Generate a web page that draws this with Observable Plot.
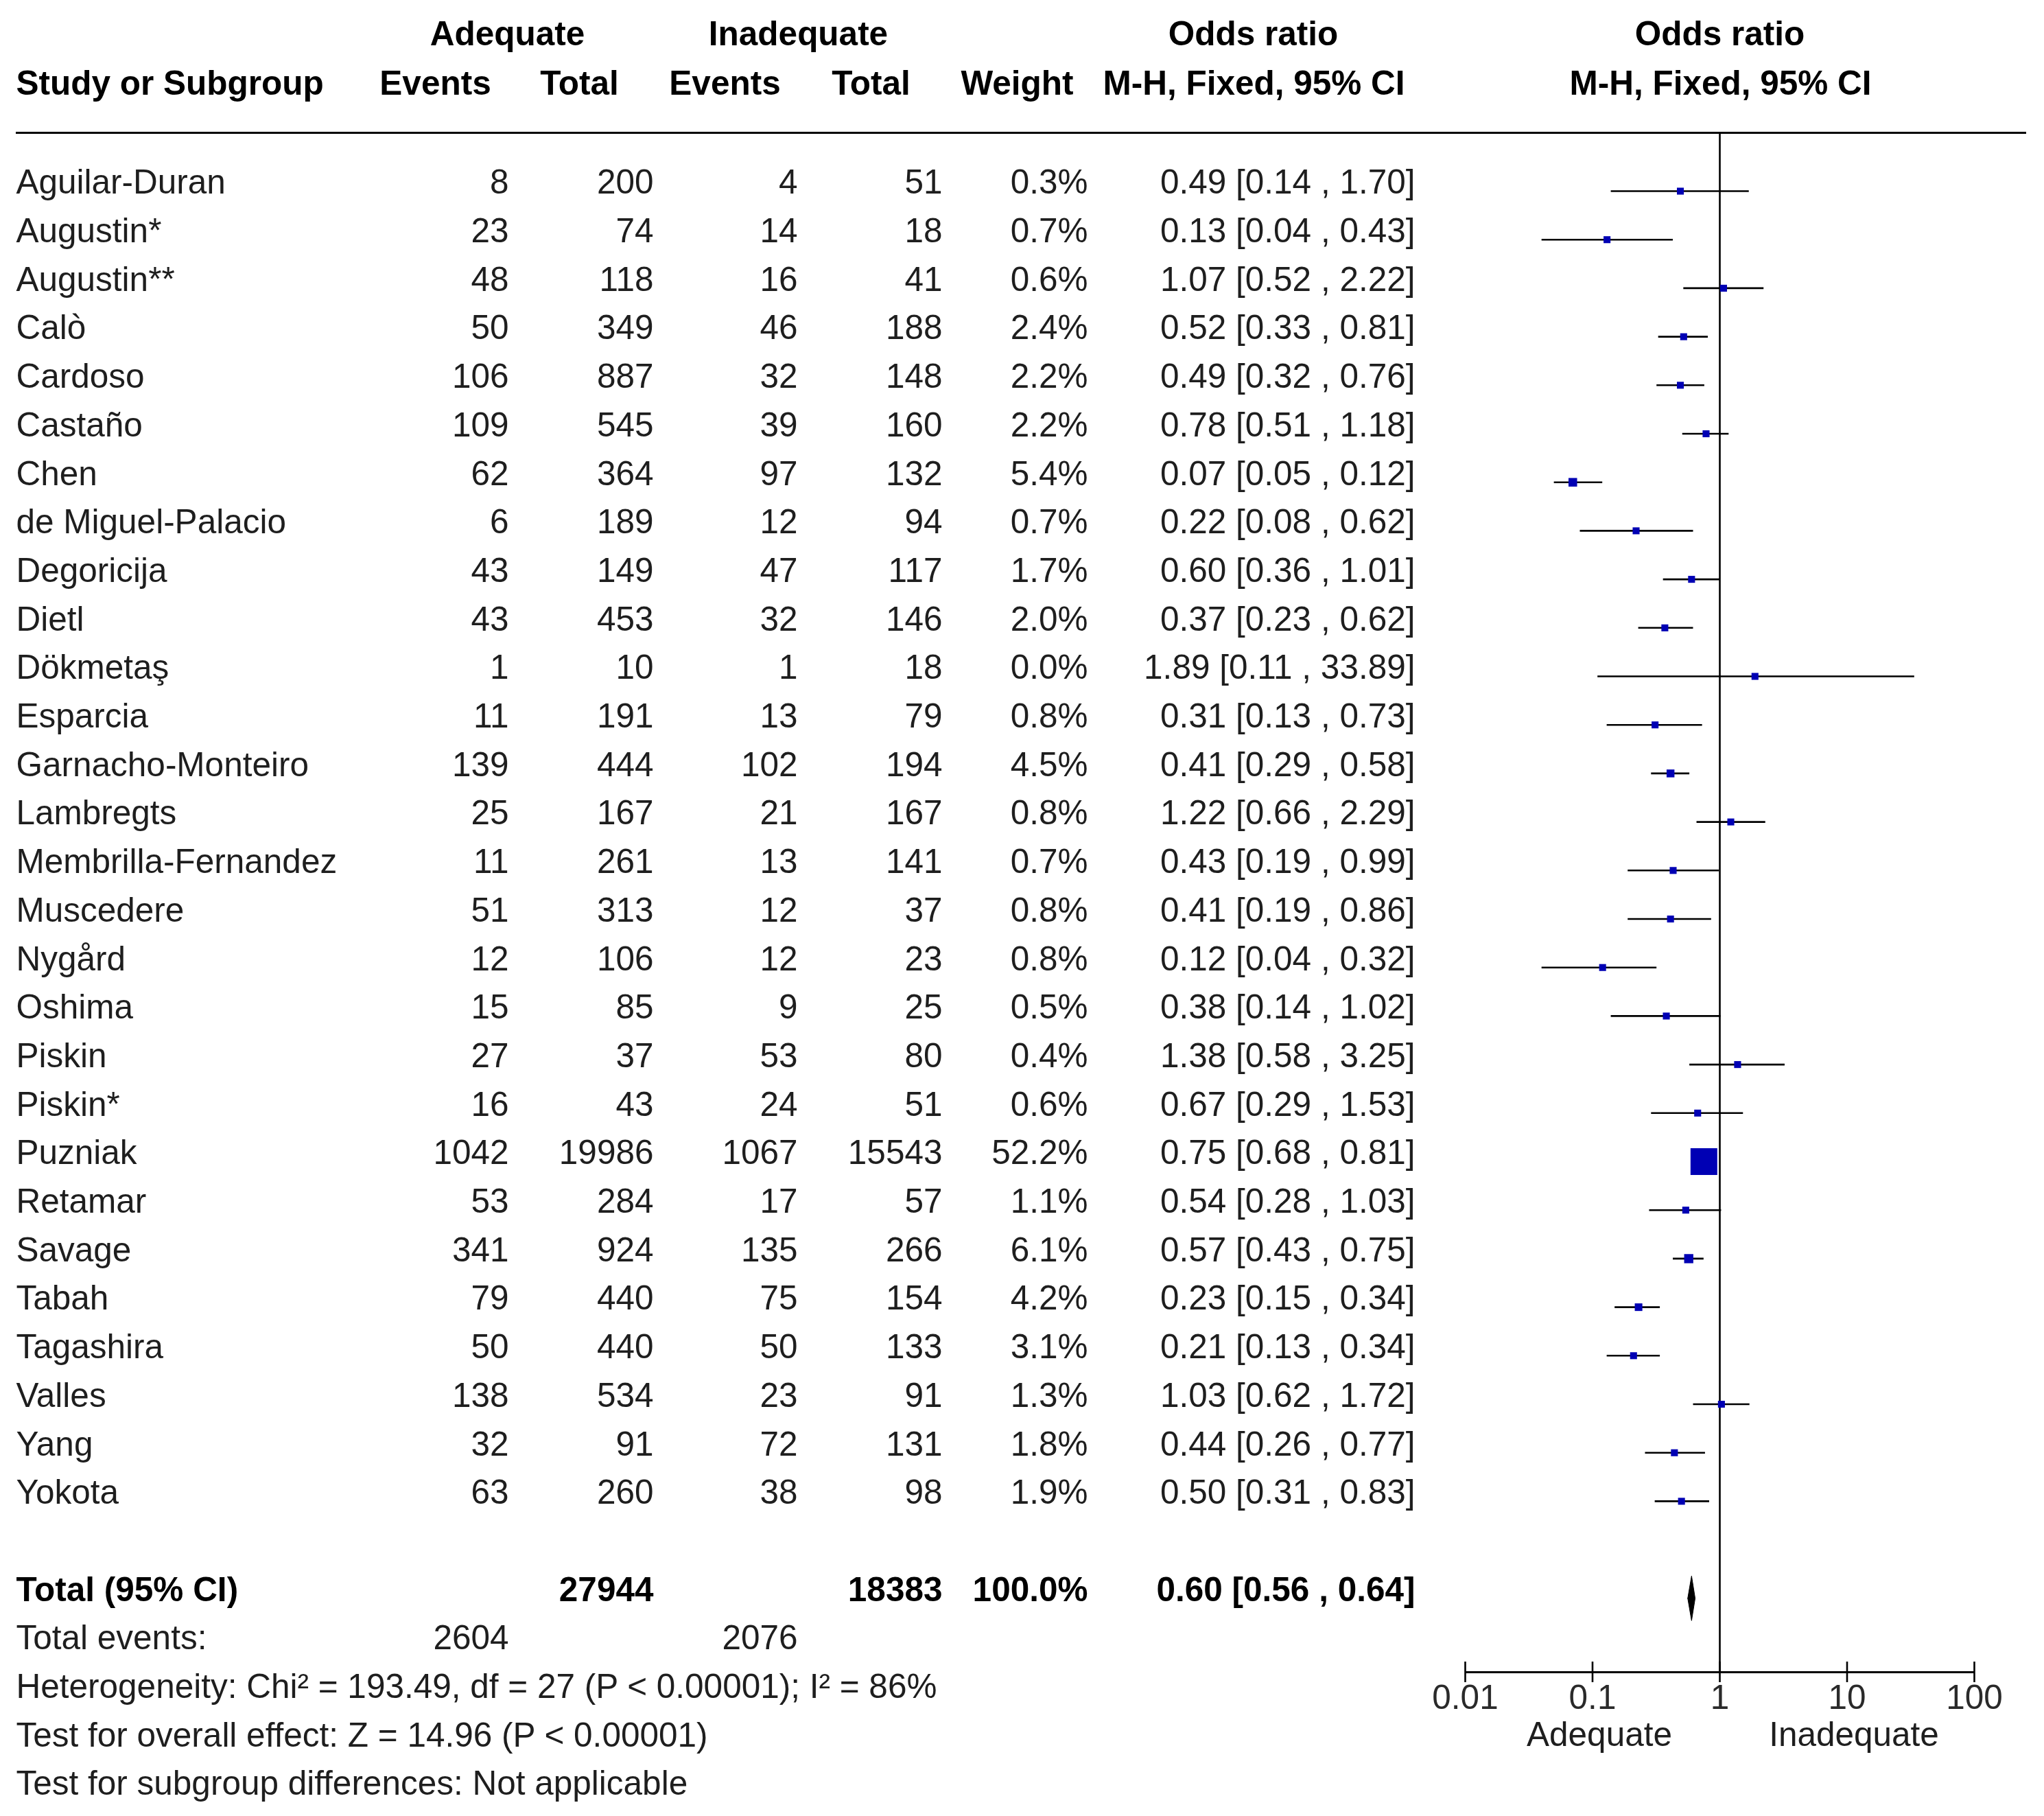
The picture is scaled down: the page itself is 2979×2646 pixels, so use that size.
<!DOCTYPE html>
<html><head><meta charset="utf-8">
<script src="https://cdn.jsdelivr.net/npm/d3@7"></script>
<script src="https://cdn.jsdelivr.net/npm/@observablehq/plot@0.6"></script>
<style>body{margin:0;background:#fff}</style>
</head><body><div id="chart"></div>
<script>
// ---------------- data ----------------
const studies = ["Aguilar-Duran","Augustin*","Augustin**","Calò","Cardoso","Castaño","Chen","de Miguel-Palacio","Degoricija","Dietl","Dökmetaş","Esparcia","Garnacho-Monteiro","Lambregts","Membrilla-Fernandez","Muscedere","Nygård","Oshima","Piskin","Piskin*","Puzniak","Retamar","Savage","Tabah","Tagashira","Valles","Yang","Yokota"];
const adeqEvents = [8,23,48,50,106,109,62,6,43,43,1,11,139,25,11,51,12,15,27,16,1042,53,341,79,50,138,32,63];
const adeqTotal  = [200,74,118,349,887,545,364,189,149,453,10,191,444,167,261,313,106,85,37,43,19986,284,924,440,440,534,91,260];
const inadEvents = [4,14,16,46,32,39,97,12,47,32,1,13,102,21,13,12,12,9,53,24,1067,17,135,75,50,23,72,38];
const inadTotal  = [51,18,41,188,148,160,132,94,117,146,18,79,194,167,141,37,23,25,80,51,15543,57,266,154,133,91,131,98];
const weights    = [0.3,0.7,0.6,2.4,2.2,2.2,5.4,0.7,1.7,2.0,0.0,0.8,4.5,0.8,0.7,0.8,0.8,0.5,0.4,0.6,52.2,1.1,6.1,4.2,3.1,1.3,1.8,1.9];
const oddsRatio  = [0.49,0.13,1.07,0.52,0.49,0.78,0.07,0.22,0.60,0.37,1.89,0.31,0.41,1.22,0.43,0.41,0.12,0.38,1.38,0.67,0.75,0.54,0.57,0.23,0.21,1.03,0.44,0.50];
const ciLow      = [0.14,0.04,0.52,0.33,0.32,0.51,0.05,0.08,0.36,0.23,0.11,0.13,0.29,0.66,0.19,0.19,0.04,0.14,0.58,0.29,0.68,0.28,0.43,0.15,0.13,0.62,0.26,0.31];
const ciHigh     = [1.70,0.43,2.22,0.81,0.76,1.18,0.12,0.62,1.01,0.62,33.89,0.73,0.58,2.29,0.99,0.86,0.32,1.02,3.25,1.53,0.81,1.03,0.75,0.34,0.34,1.72,0.77,0.83];

const totalN = [27944, 18383];
const totalEvents = [2604, 2076];
const totalWeight = 100.0;
const totalOR = [0.60, 0.56, 0.64]; // estimate, low, high

const headerTop = ["Adequate","Inadequate","Odds ratio","Odds ratio"];
const headerCols = ["Study or Subgroup","Events","Total","Events","Total","Weight","M-H, Fixed, 95% CI","M-H, Fixed, 95% CI"];
const totalLabel = "Total (95% CI)";
const eventsLabel = "Total events:";
const footnotes = [
  "Heterogeneity: Chi² = 193.49, df = 27 (P < 0.00001); I² = 86%",
  "Test for overall effect: Z = 14.96 (P < 0.00001)",
  "Test for subgroup differences: Not applicable"
];
const xTicks = [0.01, 0.1, 1, 10, 100];
const xTickLabels = ["0.01","0.1","1","10","100"];
const favourLabels = ["Adequate","Inadequate"];

// ---------------- layout ----------------
const W = 2979, H = 2646;
const FS = 49.5;
const FONT = "'Liberation Sans', Arial, Helvetica, sans-serif";
const ROW0 = 266, ROWH = 70.7;
const yOf = px => (px - ROW0) / ROWH;
const GOFF = 0.17;           // graphic rows sit slightly below text centre
const col = {name: 23, e1: 741, t1: 952, e2: 1162, t2: 1373, w: 1585, or: 2062};
const headerTopX = [739, 1163, 1826, 2506];
const headerColX = [23, 634, 844, 1056, 1269, 1482, 1827, 2507];
const fmt2 = v => v.toFixed(2);
const orText = (o, l, h) => `${fmt2(o)} [${fmt2(l)} , ${fmt2(h)}]`;

const rows = studies.map((s, i) => ({
  i, s, e1: adeqEvents[i], t1: adeqTotal[i], e2: inadEvents[i], t2: inadTotal[i],
  w: weights[i], or: oddsRatio[i], lo: ciLow[i], hi: ciHigh[i]
}));
const totalRow = rows.length + 1;

const T = (data, o) => Plot.text(data, {fontSize: FS, fill: "#1e1e1e", frameAnchor: "left", fontFamily: FONT, ...o});
const S = k => d => String(d[k]);

const diamond = [
  {x: totalOR[1], y: totalRow + GOFF},
  {x: totalOR[0], y: totalRow + GOFF - 0.46},
  {x: totalOR[2], y: totalRow + GOFF},
  {x: totalOR[0], y: totalRow + GOFF + 0.46},
  {x: totalOR[1], y: totalRow + GOFF}
];

const marks = [];
headerTop.forEach((h, k) => marks.push(T([h], {y: () => yOf(50), dx: headerTopX[k], text: d => d, textAnchor: "middle", fontWeight: "bold", fill: "#000"})));
headerCols.forEach((h, k) => marks.push(T([h], {y: () => yOf(122), dx: headerColX[k], text: d => d, textAnchor: k === 0 ? "start" : "middle", fontWeight: "bold", fill: "#000"})));

marks.push(
  Plot.ruleY([yOf(193)], {insetLeft: 23, insetRight: 26, stroke: "#000", strokeWidth: 3}),
  Plot.ruleX([1], {y1: () => yOf(193), y2: () => yOf(2436), stroke: "#000", strokeWidth: 2.6}),
  // table body
  T(rows, {y: "i", dx: col.name, text: "s", textAnchor: "start"}),
  T(rows, {y: "i", dx: col.e1, text: S("e1"), textAnchor: "end"}),
  T(rows, {y: "i", dx: col.t1, text: S("t1"), textAnchor: "end"}),
  T(rows, {y: "i", dx: col.e2, text: S("e2"), textAnchor: "end"}),
  T(rows, {y: "i", dx: col.t2, text: S("t2"), textAnchor: "end"}),
  T(rows, {y: "i", dx: col.w, text: d => d.w.toFixed(1) + "%", textAnchor: "end"}),
  T(rows, {y: "i", dx: col.or, text: d => orText(d.or, d.lo, d.hi), textAnchor: "end"}),
  // forest graphics
  Plot.ruleY(rows, {y: d => d.i + GOFF, x1: "lo", x2: "hi", stroke: "#000", strokeWidth: 2.6}),
  Plot.dot(rows, {x: "or", y: d => d.i + GOFF, r: d => Math.max(d.w, 3.5), symbol: "square", fill: "#0000b4", stroke: "none"}),
  Plot.line(diamond, {x: "x", y: "y", fill: "#000", stroke: "#000", strokeWidth: 1}),
  // total row
  T([totalLabel], {y: () => totalRow, dx: col.name, text: d => d, textAnchor: "start", fontWeight: "bold", fill: "#000"}),
  T([totalN[0]], {y: () => totalRow, dx: col.t1, text: d => String(d), textAnchor: "end", fontWeight: "bold", fill: "#000"}),
  T([totalN[1]], {y: () => totalRow, dx: col.t2, text: d => String(d), textAnchor: "end", fontWeight: "bold", fill: "#000"}),
  T([totalWeight], {y: () => totalRow, dx: col.w, text: d => d.toFixed(1) + "%", textAnchor: "end", fontWeight: "bold", fill: "#000"}),
  T([totalOR], {y: () => totalRow, dx: col.or, text: d => orText(d[0], d[1], d[2]), textAnchor: "end", fontWeight: "bold", fill: "#000"}),
  T([eventsLabel], {y: () => totalRow + 1, dx: col.name, text: d => d, textAnchor: "start"}),
  T([totalEvents[0]], {y: () => totalRow + 1, dx: col.e1, text: d => String(d), textAnchor: "end"}),
  T([totalEvents[1]], {y: () => totalRow + 1, dx: col.e2, text: d => String(d), textAnchor: "end"}),
  T(footnotes, {y: (d, i) => totalRow + 2 + i, dx: col.name, text: d => d, textAnchor: "start"}),
  // x axis
  Plot.ruleY([yOf(2436)], {x1: () => xTicks[0], x2: () => xTicks[xTicks.length - 1], stroke: "#000", strokeWidth: 3}),
  Plot.ruleX(xTicks, {x: d => d, y1: () => yOf(2421), y2: () => yOf(2451), stroke: "#000", strokeWidth: 2.6}),
  Plot.text(xTicks, {x: d => d, y: () => yOf(2474), text: (d, i) => xTickLabels[i], fontSize: FS, fontFamily: FONT, fill: "#2a2a2a"}),
  Plot.text(favourLabels, {x: (d, i) => [0.1, 10][i], dx: 10, y: () => yOf(2528), text: d => d, fontSize: FS, fontFamily: FONT, fill: "#1e1e1e"})
);

const chart = Plot.plot({
  width: W, height: H,
  marginTop: 0, marginRight: 0, marginBottom: 0, marginLeft: 0,
  x: {type: "log", domain: [0.01, 100], range: [2135, 2877], axis: null},
  y: {type: "linear", domain: [0, 1], range: [ROW0, ROW0 + ROWH], axis: null},
  r: {type: "sqrt", domain: [0, d3.max(weights)], range: [0, 22]},
  style: {background: "#fff", fontFamily: FONT, maxWidth: "none"},
  marks
});
document.getElementById("chart").appendChild(chart);
</script>
</body></html>
